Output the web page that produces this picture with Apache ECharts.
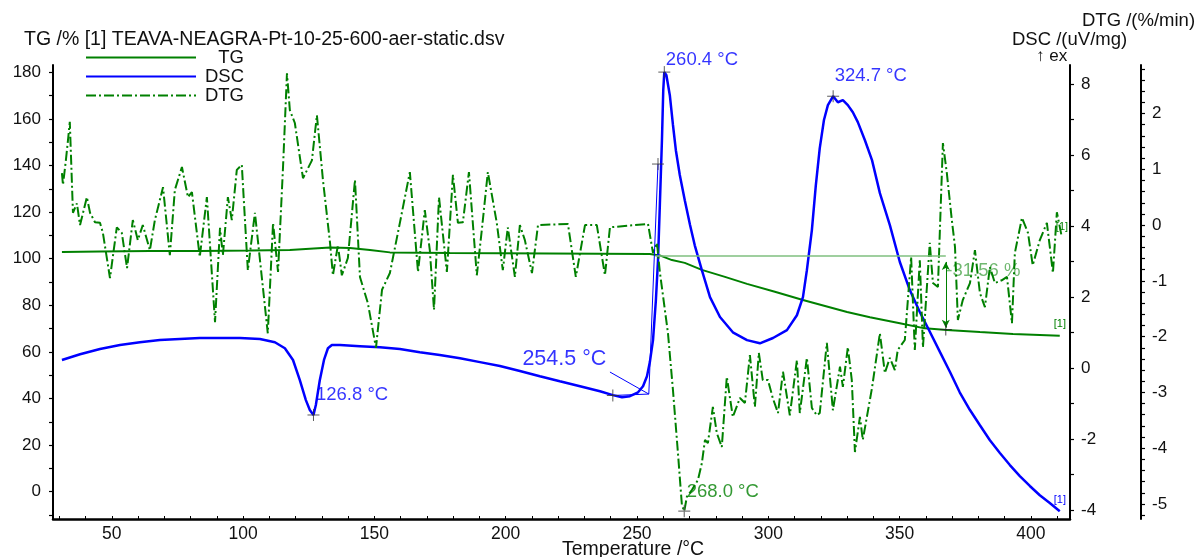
<!DOCTYPE html>
<html><head><meta charset="utf-8">
<script src="https://cdn.jsdelivr.net/npm/echarts@6/dist/echarts.min.js"></script>
<style>html,body{margin:0;padding:0;background:#fff}#c{width:1202px;height:557px}</style>
</head><body><div id="c"></div>
<script>
// ---- data (Temperature °C, value) ----
const tgData = [[31.0,102.9],[45.5,103.1],[64.5,103.3],[83.5,103.3],[102.6,103.5],[117.8,103.7],[125.4,104.3],[133.1,104.8],[140.7,104.6],[148.3,103.7],[155.9,102.7],[178.8,102.4],[216.8,102.2],[254.9,102.0],[258.7,101.4],[263.3,99.4],[268.2,98.2],[274.7,95.2],[283.5,92.2],[291.9,89.2],[302.5,85.8],[313.2,82.3],[321.6,79.7],[330.0,77.1],[338.7,74.9],[350.1,72.3],[359.6,70.1],[368.0,69.4],[380.6,68.5],[393.2,67.7],[403.4,67.3],[411.0,66.9]];

const dscData = [[31.0,0.23],[37.9,0.39],[45.5,0.54],[53.1,0.65],[60.7,0.73],[68.3,0.79],[75.9,0.82],[83.5,0.85],[91.2,0.85],[98.8,0.85],[106.4,0.82],[112.1,0.73],[115.9,0.56],[119.0,0.23],[121.6,-0.34],[123.9,-0.90],[125.4,-1.18],[126.8,-1.32],[127.7,-1.04],[129.2,-0.34],[130.8,0.23],[132.3,0.56],[133.8,0.65],[136.9,0.65],[144.5,0.62],[152.1,0.59],[159.7,0.54],[167.3,0.45],[174.9,0.37],[182.6,0.28],[190.2,0.17],[197.8,0.06],[205.4,-0.08],[213.0,-0.23],[220.6,-0.37],[228.3,-0.51],[235.9,-0.65],[240.8,-0.76],[244.3,-0.82],[247.3,-0.79],[250.4,-0.68],[252.3,-0.51],[253.8,-0.23],[254.9,0.17],[256.1,0.79],[257.2,1.92],[258.0,3.04],[258.7,4.59],[259.5,6.42],[260.0,7.83],[260.4,8.34],[261.2,8.25],[262.5,7.69],[263.7,6.85],[264.8,6.14],[266.3,5.44],[268.2,4.73],[270.2,4.03],[272.0,3.46],[274.7,2.76],[277.8,2.00],[281.6,1.44],[286.5,1.01],[291.9,0.79],[296.8,0.70],[301.8,0.85],[307.1,1.07],[310.9,1.49],[313.2,2.00],[314.7,2.76],[316.6,3.89],[318.1,5.15],[319.6,6.20],[321.2,6.99],[322.7,7.41],[324.7,7.66],[326.5,7.49],[328.4,7.55],[330.3,7.41],[332.2,7.21],[334.1,6.93],[336.8,6.42],[339.5,5.86],[342.5,4.93],[346.3,4.03],[350.1,2.99],[353.9,2.20],[357.7,1.58],[360.8,1.13],[365.4,0.45],[369.2,-0.11],[372.9,-0.68],[376.8,-1.18],[380.6,-1.61],[384.4,-2.03],[388.2,-2.39],[392.0,-2.73],[395.8,-3.04],[399.6,-3.32],[403.4,-3.58],[407.2,-3.80],[411.0,-4.03]];

const dtgData = [[31.0,0.93],[31.4,0.72],[32.5,1.16],[33.3,1.52],[34.0,1.85],[35.2,0.22],[36.7,0.39],[37.9,0.00],[40.5,0.50],[41.7,0.22],[43.6,0.05],[45.5,0.04],[46.6,-0.14],[49.3,-0.95],[51.9,-0.04],[53.8,-0.14],[55.8,-0.77],[58.0,0.09],[59.9,-0.27],[61.8,0.00],[64.5,-0.45],[66.4,0.09],[69.5,0.68],[72.1,-0.54],[74.0,0.63],[76.7,1.04],[79.0,0.50],[80.5,0.59],[83.5,-0.57],[86.2,0.50],[89.3,-1.74],[91.2,-0.05],[92.3,-0.54],[94.2,0.50],[95.7,0.09],[97.6,0.99],[99.5,1.08],[101.8,-0.81],[104.5,0.22],[109.4,-1.94],[111.4,0.04],[113.3,-0.84],[115.2,1.04],[116.7,2.72],[117.8,2.06],[119.7,1.83],[122.8,0.84],[126.2,1.16],[128.1,1.97],[130.4,0.81],[133.1,-0.32],[134.2,-0.90],[136.1,-0.36],[137.6,-0.90],[139.9,-0.59],[142.6,0.81],[144.5,-0.93],[147.5,-1.40],[150.6,-2.20],[152.9,-1.16],[155.9,-0.86],[159.7,0.04],[163.5,0.95],[166.6,-0.84],[169.2,0.27],[171.1,-0.45],[172.7,-1.52],[174.6,0.50],[177.6,-0.84],[179.9,0.90],[181.8,0.04],[183.7,0.05],[186.0,0.95],[189.0,-0.90],[190.9,-0.09],[193.2,0.95],[196.6,0.04],[198.9,-0.81],[200.8,-0.04],[203.5,-0.93],[205.4,0.00],[207.3,-0.27],[210.0,-0.86],[212.3,0.00],[223.7,0.02],[226.7,-0.93],[230.2,0.00],[234.7,0.00],[237.8,-0.90],[239.7,-0.04],[254.2,0.02],[256.1,-0.50],[257.6,-0.32],[258.7,-0.84],[261.8,-1.94],[263.7,-2.96],[265.6,-4.09],[267.1,-5.02],[268.0,-5.13],[269.0,-4.87],[270.9,-4.75],[273.2,-4.57],[274.7,-4.27],[275.9,-3.85],[277.0,-3.91],[278.9,-3.26],[280.4,-3.73],[282.3,-3.98],[284.2,-2.72],[286.5,-3.44],[289.2,-3.10],[291.1,-3.19],[293.0,-2.33],[294.9,-3.26],[296.4,-2.29],[297.9,-2.78],[299.9,-2.78],[301.7,-3.10],[303.7,-3.37],[305.6,-2.63],[308.2,-3.41],[310.9,-2.42],[312.0,-3.37],[314.7,-2.38],[316.6,-3.28],[318.5,-3.41],[319.6,-3.37],[322.3,-2.11],[324.6,-3.32],[327.3,-2.54],[328.4,-2.90],[330.3,-2.19],[331.8,-2.78],[333.0,-4.07],[334.9,-3.44],[336.0,-3.85],[339.5,-2.92],[342.5,-1.94],[344.4,-2.65],[346.3,-2.38],[348.2,-2.60],[349.3,-2.24],[352.0,-2.06],[354.4,-0.57],[355.8,-2.24],[357.7,-0.63],[358.9,-2.19],[361.5,-0.32],[362.7,-1.04],[364.6,-1.11],[366.5,1.47],[368.0,0.93],[369.9,0.09],[371.1,-0.39],[372.2,-1.70],[374.1,-1.34],[376.8,-1.04],[378.7,-0.45],[380.6,-1.22],[382.5,-1.47],[384.4,-0.75],[386.3,-1.04],[388.9,-0.99],[390.9,-0.93],[392.8,-1.76],[393.9,-0.50],[396.6,0.13],[398.9,-0.14],[400.7,-0.72],[403.4,-0.27],[406.1,0.04],[408.4,-0.86],[409.9,0.23],[411.8,-0.22]];

// annotation points
const dscPeaks = [[126.8,-1.32,'126.8 °C'],[240.8,-0.77,''],[258.0,5.75,''],[260.4,8.34,'260.4 °C'],[324.7,7.66,'324.7 °C']];
const dscOnset = [254.5,-0.73,'254.5 °C'];
const dscBaseline = [[240.8,-0.77],[254.5,-0.73]];
const dscTangent = [[254.5,-0.73],[258.0,5.75]];
const dscLeader = [[239.7,-0.11],[254.5,-0.73]];
const dtgPeaks = [[268.0,-5.13,'268.0 °C']];
const tgStep = {from:101.2, to:69.6, t0:257.0, t1:367.6, text:'-31.56 %'};

// ticks / labels
const xLabels = [50,100,150,200,250,300,350,400];
const xTicks = [30,40,50,60,70,80,90,100,110,120,130,140,150,160,170,180,190,200,210,220,230,240,250,260,270,280,290,300,310,320,330,340,350,360,370,380,390,400,410];
const tgLabels = [0,20,40,60,80,100,120,140,160,180];
const tgTicks = [-10,0,10,20,30,40,50,60,70,80,90,100,110,120,130,140,150,160,170,180];
const dscLabels = [-4,-2,0,2,4,6,8];
const dscTicks = [-4,-3,-2,-1,0,1,2,3,4,5,6,7,8];
const dtgLabels = [-5,-4,-3,-2,-1,0,1,2];
const dtgTicks = [-5.2,-5,-4.8,-4.6,-4.4,-4.2,-4,-3.8,-3.6,-3.4,-3.2,-3,-2.8,-2.6,-2.4,-2.2,-2,-1.8,-1.6,-1.4,-1.2,-1,-0.8,-0.6,-0.4,-0.2,0,0.2,0.4,0.6,0.8,1,1.2,1.4,1.6,1.8,2,2.2,2.4,2.6,2.8];

const FONT = 'Liberation Sans, Arial, sans-serif';
const GREEN = '#008000', BLUE = '#0000ff';

function yAx(min, max, labels, ticks, pos, offset){
  return {
    type:'value', min:min, max:max, position:pos, offset:offset,
    splitLine:{show:false},
    axisLine:{show:true, onZero:false, lineStyle:{color:'#000', width:2}},
    axisTick:{show:true, customValues:ticks, length:4, lineStyle:{color:'#000', width:1.2}},
    axisLabel:{show:true, customValues:labels, margin:pos==='left'?12:11, color:'#111', fontSize:17, fontFamily:FONT},
  };
}

const crossSym = 'path://M0,6L12,6M6,0L6,12';
const peakLabelPos = {'126.8 °C':[9,-14], '260.4 °C':[8,-6], '324.7 °C':[8,-14]};

const chart = echarts.init(document.getElementById('c'), null, {renderer:'canvas'});
chart.setOption({
  animation:false,
  backgroundColor:'#fff',
  textStyle:{fontFamily:FONT},
  title:{text:'TG /% [1] TEAVA-NEAGRA-Pt-10-25-600-aer-static.dsv', left:24, top:30, padding:0,
    textStyle:{fontSize:19.5, fontWeight:'normal', color:'#111', fontFamily:FONT}},
  legend:{data:['TG','DSC','DTG'], orient:'vertical', left:85, top:48, padding:0, itemWidth:110, itemHeight:18, itemGap:0,
    selectedMode:false,
    itemStyle:{opacity:0},
    formatter:function(n){return '{r|'+n+'}';},
    textStyle:{color:'#111', fontFamily:FONT, rich:{r:{width:43, align:'right', fontSize:18.5, fontFamily:FONT, color:'#111'}}}},
  graphic:[
    {type:'text', left:1082, top:11, style:{text:'DTG /(%/min)', fontSize:18.5, fontFamily:FONT, fill:'#111'}},
    {type:'text', left:1012, top:30, style:{text:'DSC /(uV/mg)', fontSize:18.5, fontFamily:FONT, fill:'#111'}},
    {type:'text', left:1036, top:48, style:{text:'↑ exo', fontSize:17, fontFamily:FONT, fill:'#111', width:34, overflow:'truncate', ellipsis:''}},
    {type:'text', left:562, top:540, style:{text:'Temperature /°C', fontSize:19.5, fontFamily:FONT, fill:'#111'}}
  ],
  grid:{left:53, right:132, top:65, bottom:38, containLabel:false, outerBoundsMode:'none'},
  xAxis:{type:'value', min:27.6, max:414.9,
    splitLine:{show:false},
    axisLine:{show:true, onZero:false, lineStyle:{color:'#000', width:2.5}},
    axisTick:{show:true, inside:true, customValues:xTicks, length:3, lineStyle:{color:'#000'}},
    axisLabel:{customValues:xLabels, margin:6, fontSize:17.5, color:'#111', fontFamily:FONT}},
  yAxis:[
    yAx(-11.7, 183.1, tgLabels, tgTicks, 'left', 0),
    yAx(-4.25, 8.54, dscLabels, dscTicks, 'right', 0),
    yAx(-5.27, 2.87, dtgLabels, dtgTicks, 'right', 71)
  ],
  series:[
    {name:'TG', type:'line', yAxisIndex:0, data:tgData, symbol:'none', color:GREEN,
      lineStyle:{color:GREEN, width:2},
      endLabel:{show:true, formatter:'[1]', fontSize:11, color:GREEN, offset:[-14,-12]}},
    {name:'DSC', type:'line', yAxisIndex:1, data:dscData, symbol:'none', color:BLUE,
      lineStyle:{color:BLUE, width:2.5},
      endLabel:{show:true, formatter:'[1]', fontSize:11, color:BLUE, offset:[-14,-11]}},
    {name:'DTG', type:'line', yAxisIndex:2, data:dtgData, symbol:'none', color:GREEN,
      lineStyle:{color:GREEN, width:2, type:[10,3,2,3]},
      endLabel:{show:true, formatter:'[1]', fontSize:11, color:GREEN, offset:[-14,-10]}},
    {name:'dscMarks', type:'scatter', yAxisIndex:1, silent:true, z:5,
      symbol:crossSym, symbolSize:12,
      itemStyle:{color:'rgba(0,0,0,0)', borderColor:'#333', borderWidth:1},
      data: dscPeaks.map(p=>({value:[p[0],p[1]], label:{show:!!p[2], formatter:p[2], position:peakLabelPos[p[2]]||[0,0], align:'left', verticalAlign:'middle', fontSize:18.5, color:BLUE, fontFamily:FONT}}))
        .concat([{value:[dscOnset[0],dscOnset[1]], symbol:'circle', symbolSize:1, itemStyle:{color:'rgba(0,0,0,0)', borderWidth:0},
          label:{show:true, formatter:dscOnset[2], position:[-42,-34], align:'right', verticalAlign:'middle', fontSize:21.5, color:BLUE, fontFamily:FONT}}]),
      markLine:{silent:true, symbol:'none', animation:false, label:{show:false},
        lineStyle:{color:BLUE, width:1, type:'solid'},
        data:[
          [{coord:dscBaseline[0]},{coord:dscBaseline[1]}],
          [{coord:dscTangent[0]},{coord:dscTangent[1]}],
          [{coord:dscLeader[0]},{coord:dscLeader[1]}]
        ]}},
    {name:'dtgMarks', type:'scatter', yAxisIndex:2, silent:true, z:5,
      symbol:crossSym, symbolSize:12,
      itemStyle:{color:'rgba(0,0,0,0)', borderColor:'#555', borderWidth:1.2},
      data: dtgPeaks.map(p=>({value:[p[0],p[1]], label:{show:true, formatter:p[2], position:[9,-13], align:'left', verticalAlign:'middle', fontSize:18.5, color:GREEN, fontFamily:FONT}}))},
    {name:'tgMarks', type:'scatter', yAxisIndex:0, silent:true, z:5,
      symbol:crossSym, symbolSize:12,
      itemStyle:{color:'rgba(0,0,0,0)', borderColor:'#222', borderWidth:1},
      data:[{value:[tgStep.t1, tgStep.to], label:{show:true, formatter:tgStep.text, position:[7,-52], align:'left', verticalAlign:'middle', fontSize:18.5, color:'rgba(0,128,0,0.7)', fontFamily:FONT}}],
      markLine:{silent:true, symbol:'none', animation:false, label:{show:false},
        data:[
          [{coord:[tgStep.t0, tgStep.from], lineStyle:{color:'#7fbf7f', width:1.5, type:'solid'}},{coord:[tgStep.t1, tgStep.from]}],
          [{coord:[tgStep.t1, tgStep.from-2.6], symbol:'arrow', symbolSize:[6,8], lineStyle:{color:GREEN, width:1, type:'solid'}},{coord:[tgStep.t1, tgStep.to+0.8], symbol:'arrow', symbolSize:[6,8]}]
        ]}}
  ]
});
</script></body></html>
